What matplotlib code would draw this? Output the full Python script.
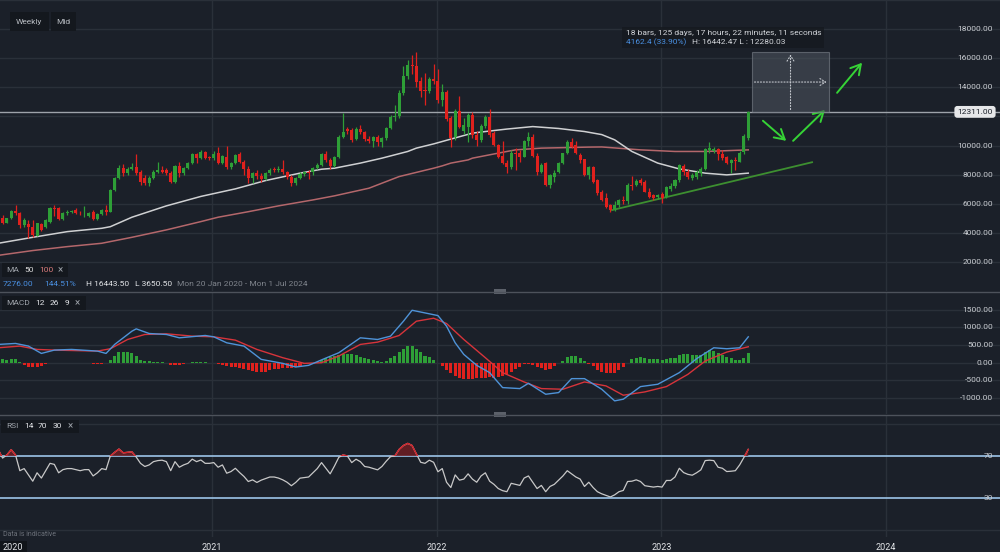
import numpy as np
import matplotlib
matplotlib.use('Agg')
import matplotlib.pyplot as plt
from matplotlib.patches import Rectangle
from matplotlib.transforms import blended_transform_factory

plt.rcParams['font.family'] = ['Roboto', 'DejaVu Sans']

# ---------------- data (weekly bars from Mon 20 Jan 2020) ----------------
start_date = np.datetime64('2020-01-20')

opens = [5100, 5000, 4700, 5000, 5500, 5380, 4540, 4600, 4420, 3800,
         4600, 4380, 4770, 5700, 5690, 4930, 5360, 5450, 5600, 5390,
         5330, 5160, 5450, 4950, 5270, 5570, 5460, 6950, 7770, 8440,
         8100, 8370, 8550, 8210, 7800, 7410, 7800, 8210, 8350, 8300,
         8140, 7500, 8600, 8100, 8440, 8780, 9420, 9130, 9580, 9220,
         9130, 9470, 8790, 9240, 8510, 8800, 9400, 8900, 8400, 7800,
         8100, 7870, 7690, 8100, 8350, 8300, 8400, 8200, 7860, 7420,
         7750, 8050, 8150, 8150, 8440, 8670, 9450, 9000, 8560, 9200,
         10600, 11130, 11080, 10450, 11130, 10900, 10450, 10320, 10550, 10270,
         10500, 11190, 11950, 12050, 13600, 14800, 15550, 15480, 14450, 13800,
         13780, 14560, 14400, 13140, 13700, 11880, 10600, 12340, 11030, 11300,
         12100, 10700, 10350, 11350, 11990, 10850, 10040, 9290, 8830, 8550,
         9500, 9470, 9240, 10300, 10600, 9300, 8210, 8785, 7290, 7820,
         8210, 8785, 9470, 10270, 10040, 9360, 9060, 7980, 8550, 7630,
         6830, 6380, 5920, 5620, 5900, 6260, 6200, 7290, 7290, 7630,
         7520, 6830, 6600, 6450, 6670, 6450, 7000, 7220, 7630, 8600,
         8210, 7750, 7820, 8100, 8370, 9700, 9650, 9750, 9400, 9200,
         8830, 9000, 8900, 9520, 10500]
highs = [5250, 5200, 5050, 5550, 5920, 5400, 5000, 4880, 4900, 4700,
         4700, 4950, 5750, 5940, 5750, 5450, 5600, 5600, 5720, 5500,
         5840, 5450, 5550, 5330, 5650, 5900, 7000, 7850, 8650, 8700,
         8500, 8800, 9420, 8300, 7950, 7900, 8300, 8850, 8600, 8450,
         8250, 8650, 8850, 8550, 8850, 9500, 9500, 9700, 9650, 9300,
         9600, 9930, 9350, 9975, 8900, 9450, 9550, 9000, 8600, 8200,
         8300, 8100, 8200, 8450, 8500, 8600, 9000, 8250, 7950, 7850,
         8150, 8250, 8300, 8550, 8800, 9500, 9600, 9150, 9250, 10700,
         12225, 11300, 11200, 11250, 11400, 11000, 10650, 10650, 10700, 10600,
         11300, 12100, 12750, 13800, 15430, 15850, 16240, 16443, 14700, 15000,
         14700, 15620, 15270, 14200, 13800, 12000, 12500, 13370, 11900, 12200,
         12300, 11000, 11500, 12100, 12520, 11000, 10100, 10300, 9000, 9700,
         9840, 9700, 10400, 10960, 10800, 9470, 8800, 8900, 8050, 8300,
         8900, 9500, 10400, 10500, 10300, 9500, 9100, 8600, 8600, 7700,
         6950, 6750, 6000, 6200, 6350, 6500, 7400, 7910, 7700, 7800,
         7600, 7100, 6700, 6700, 6800, 7200, 7400, 7700, 8700, 8700,
         8400, 8100, 8300, 8500, 9800, 10270, 9900, 9800, 9700, 9300,
         9100, 9240, 9600, 10800, 12350]
lows = [4900, 4600, 4650, 4950, 5230, 4300, 4400, 3650, 3700, 3750,
        4100, 4300, 4700, 5160, 4850, 4880, 5250, 5350, 5300, 5200,
        5100, 5100, 4900, 4880, 5200, 5250, 5400, 6850, 7700, 7900,
        8000, 8300, 8000, 7300, 7300, 7250, 7700, 8100, 8100, 7950,
        7450, 7450, 7850, 8000, 8400, 8700, 8780, 9050, 9050, 9000,
        9000, 8700, 8700, 8400, 8400, 8750, 8800, 7980, 7430, 7400,
        7700, 7500, 7600, 7950, 8200, 8150, 8050, 7700, 7250, 7300,
        7700, 7900, 7700, 8000, 8400, 8600, 8900, 8400, 8500, 9150,
        10500, 10800, 10250, 10400, 10800, 10300, 10200, 9930, 9950, 9900,
        10400, 11100, 11700, 11900, 13500, 14600, 14900, 14000, 13300, 12800,
        13600, 14200, 12900, 12700, 11700, 9930, 10400, 11200, 10800, 10270,
        10500, 10000, 10250, 11200, 10600, 9950, 9150, 8700, 8100, 8400,
        8330, 8900, 9200, 10000, 9200, 8000, 8100, 7200, 7100, 7500,
        8100, 8700, 9400, 9800, 9400, 8800, 7900, 7700, 7400, 6600,
        6200, 5700, 5457, 5470, 5750, 5950, 6000, 6950, 7200, 7300,
        6800, 6400, 6250, 6300, 6040, 6400, 6900, 7100, 7500, 8000,
        7700, 7600, 7700, 7900, 8300, 9500, 9500, 9000, 9000, 8750,
        8100, 8320, 8850, 9400, 10390]
closes = [5000, 4700, 5000, 5500, 5380, 4540, 4880, 4420, 3860, 4650,
          4200, 4880, 5700, 5620, 4930, 5340, 5450, 5500, 5390, 5330,
          5380, 5380, 4950, 5270, 5570, 5460, 6950, 7770, 8480, 8100,
          8370, 8550, 8100, 7520, 7410, 7800, 8210, 8300, 8210, 8100,
          7500, 8600, 8100, 8440, 8780, 9400, 9130, 9580, 9150, 9120,
          9420, 8790, 9290, 8500, 8830, 9350, 8900, 8400, 7800, 8100,
          7870, 7690, 8100, 8320, 8300, 8350, 8200, 7860, 7420, 7750,
          8050, 8150, 8100, 8440, 8670, 9450, 9010, 8560, 9200, 10600,
          10950, 11030, 10400, 11130, 10900, 10430, 10320, 10550, 10270, 10500,
          11190, 11950, 12050, 13600, 14800, 15550, 15430, 14330, 13760, 13750,
          14560, 14400, 13140, 13710, 11850, 10500, 12340, 11300, 11420, 12100,
          10700, 10350, 11350, 11990, 10730, 10040, 9240, 8790, 8550, 9500,
          9400, 9240, 10300, 10600, 9300, 8210, 8670, 7290, 7980, 8100,
          8830, 9470, 10270, 9930, 9470, 9010, 7980, 8550, 7470, 6720,
          6260, 5800, 5570, 5900, 6260, 6200, 7290, 7200, 7590, 7410,
          6830, 6490, 6380, 6600, 6380, 7130, 7220, 7630, 8670, 8210,
          7820, 7980, 8210, 8370, 9750, 9820, 9750, 9400, 9130, 8830,
          8970, 8950, 9470, 10620, 12311]

ma50_weeks = [0, 8, 16, 24, 26, 31, 39, 47, 55, 62, 70, 75, 78, 84, 89, 95, 97,
              101, 105, 110, 113, 118, 124, 130, 136, 140, 143, 147, 153, 158,
              164, 169, 174]
ma50_vals = [3280, 3690, 4080, 4310, 4420, 5070, 5850, 6500, 7020, 7590, 8100,
             8370, 8440, 8790, 9130, 9590, 9820, 10110, 10440, 10850, 10960,
             11130, 11300, 11170, 10960, 10750, 10390, 9590, 8790, 8390, 8100,
             7980, 8100]
ma100_weeks = [0, 8, 16, 24, 31, 39, 47, 51, 58, 65, 73, 78, 86, 93, 101, 103,
               105, 109, 110, 118, 120, 126, 137, 140, 149, 157, 164, 174]
ma100_vals = [2450, 2780, 3050, 3280, 3690, 4200, 4770, 5070, 5450, 5850, 6260,
              6540, 7065, 7865, 8440, 8600, 8790, 9010, 9130, 9590, 9700, 9820,
              9890, 9900, 9700, 9590, 9590, 9700]

macd_weeks = [0, 4, 7, 10, 13, 17, 23, 25, 27, 31, 32, 35, 39, 42, 48, 50, 53,
              57, 61, 66, 69, 72, 76, 79, 84, 88, 91, 94, 96, 99, 102, 104, 106,
              108, 111, 114, 117, 121, 123, 127, 130, 133, 136, 140, 143, 145,
              149, 153, 158, 162, 166, 169, 172, 174]
macd_vals = [516, 544, 469, 262, 356, 375, 328, 262, 516, 890, 956, 825, 797,
             703, 769, 731, 562, 469, 94, -19, -122, -75, 131, 281, 703, 656,
             750, 1172, 1481, 1406, 1331, 1031, 562, 234, -75, -281, -703, -731,
             -581, -891, -844, -450, -450, -750, -1078, -1031, -675, -609, -281,
             112, 422, 394, 422, 731]
signal_weeks = [0, 5, 9, 13, 23, 26, 30, 34, 39, 45, 50, 55, 60, 66, 71, 75, 79,
                84, 88, 93, 97, 101, 104, 108, 113, 117, 122, 126, 131, 136, 141,
                145, 150, 155, 160, 164, 169, 174]
signal_vals = [422, 469, 375, 356, 328, 394, 656, 797, 816, 750, 731, 637, 375,
               141, -19, 0, 188, 516, 581, 769, 1172, 1256, 1106, 656, 141, -281,
               -544, -731, -750, -544, -656, -919, -825, -675, -328, 47, 300, 450]
hist_vals = [100, 95, 90, 100, 95, 20,
             -60, -110, -120, -110, -80, -40,
             -10, -5, 5, 5, -10, -5, 0, -10, -10, -20,
             -40, -45, -30, -10,
             80, 200, 290, 310, 290, 260, 180, 80,
             50, 40, 30, 20, 10,
             -20, -60, -70, -70, -50, -20,
             15, 25, 20, 10, 0, -10,
             -40, -70, -100, -120, -130, -150, -180, -220, -245, -260, -265,
             -250, -220, -190, -170, -150, -140, -150, -120, -80, -50, -20,
             0, 30, 90, 140, 170, 200, 230, 250, 255, 240, 210, 170, 130, 100,
             70, 40, 20,
             50, 130, 200, 300, 400, 460, 470, 400, 300, 200, 150, 70,
             -20, -100, -200, -300, -380, -440, -470, -470, -460, -440, -420,
             -420, -410, -420, -400, -380, -330, -260, -180, -110, -40,
             -30, -60, -120, -150, -200, -180, -100,
             -20, 60, 150, 190, 180, 120, 50,
             -30, -100, -200, -260, -290, -300, -280, -200, -120, -20,
             100, 140, 150, 130, 110, 100, 100, 90, 110, 130, 140, 210, 250,
             240, 230, 230, 220, 300, 350, 330, 280, 220, 170, 120, 90, 90, 120,
             270]
rsi_vals = [76, 68, 71, 76, 71, 56, 58, 52, 46, 54,
            49, 56, 63, 62, 54, 57, 58, 58, 57, 56,
            57, 57, 51, 54, 58, 57, 70, 73.5, 76.6, 73,
            73.5, 74, 69, 63, 60, 61.5, 64.6, 65.6, 66, 64.6,
            56, 64.6, 59.3, 61.5, 63, 67, 64.6, 66.2, 63, 63,
            63.7, 59.3, 61.5, 53.6, 55.2, 58.3, 54.2, 50.5, 45.7, 47.3,
            44.8, 47, 48.5, 50, 50, 49, 47.3, 45, 41.7, 44.8,
            48.9, 49.5, 50, 54, 58, 63.7, 58.3, 53, 60.5, 68.7,
            71, 70, 63.7, 66.9, 64.6, 60, 59.3, 58, 56.8, 60,
            65, 69.4, 70, 76.3, 80, 82, 80, 72, 64, 63,
            66, 64, 55, 58, 45, 40, 52, 47, 48, 53,
            48, 45, 51, 54, 46, 43, 39, 37, 36, 44,
            43, 42, 49, 51, 45, 39, 42, 36, 41, 43,
            47, 51, 56, 53, 50, 48, 41, 45, 40, 36,
            34, 32.5, 31, 33, 36, 37.2, 45.7, 46, 47.3, 45.7,
            41.7, 41, 40.4, 41, 40.4, 46.7, 46.7, 50, 58.3, 54.2,
            52.5, 51.7, 54, 56.8, 65.6, 66, 65.6, 59.3, 58.3, 55.2,
            55.5, 56, 61.5, 68.7, 76.3]

year_labels = ['2020', '2021', '2022', '2023', '2024']
price_ticks = [2000, 4000, 6000, 8000, 10000, 14000, 16000, 18000]
macd_ticks = [-1000, -500, 0, 500, 1000, 1500]
rsi_levels = [30, 70]
last_price = 12311.0

measure_bars = 18
measure_high = 16442.47
measure_low = 12280.03
trend_weeks = [142.4, 188.8]
trend_vals = [5560, 8850]
# hand drawn arrows: (week, price) start -> end
arrows = [((177.4, 11700), (182.8, 10320)),
          ((184.4, 10320), (191.8, 12450)),
          ((194.6, 13620), (200.4, 15690))]

# ---------------- style ----------------
BG = '#1b2029'
GRID = '#2a3039'
TXT = '#c9ccd1'
GREEN = '#2e9f37'
RED = '#e0211d'
W, H = 1000, 552
XLIM = (0.4, 232.4)


def weeks_of(date_str):
    days = (np.datetime64(date_str) - start_date).astype('timedelta64[D]').astype(float)
    return days / 7.0


year_weeks = [weeks_of(y + '-01-01') for y in year_labels]

fig = plt.figure(figsize=(10, 5.52), dpi=100, facecolor=BG)


def box(top, bottom):
    return [0, 1 - bottom / H, 1, (bottom - top) / H]


def setup(ax, ylim, hgrid):
    ax.set_facecolor(BG)
    ax.set_xlim(*XLIM)
    ax.set_ylim(*ylim)
    for s in ax.spines.values():
        s.set_visible(False)
    ax.set_xticks([])
    ax.set_yticks([])
    for v in hgrid:
        ax.axhline(v, color=GRID, lw=1, zorder=0)
    for w in year_weeks[1:]:
        ax.axvline(w, color=GRID, lw=1, zorder=0)


ax_p = fig.add_axes(box(0, 291))
ax_m = fig.add_axes(box(292, 414))
ax_r = fig.add_axes(box(415, 537))
setup(ax_p, (0, 20000), range(2000, 20001, 2000))
setup(ax_m, (-1449, 1997), macd_ticks)
setup(ax_r, (-7.1, 109), [0, 100])

# ---------------- price panel ----------------
x = np.arange(len(closes))
o = np.array(opens, float)
c = np.array(closes, float)
up = c >= o
cols = np.where(up, GREEN, RED)
ax_p.vlines(x, lows, highs, colors=cols, lw=0.9, zorder=3)
ax_p.bar(x, np.maximum(np.abs(c - o), 60), bottom=np.minimum(o, c), width=0.7,
         color=cols, linewidth=0, zorder=4)

ax_p.plot(ma100_weeks, ma100_vals, color='#b4676b', lw=1.1, zorder=2)
ax_p.plot(ma50_weeks, ma50_vals, color='#cfd0d2', lw=1.1, zorder=2)
ax_p.plot(trend_weeks, trend_vals, color='#3d8f30', lw=1.3, zorder=2)

ax_p.axhline(last_price, color='#9ea3aa', lw=1, zorder=1)

# measurement box
left = len(closes) - 0.2
ax_p.add_patch(Rectangle((left, measure_low), measure_bars, measure_high - measure_low,
                         facecolor='#4b525c', alpha=0.6, edgecolor='#7d838c', lw=0.8, zorder=5))
mid_x = left + measure_bars / 2
mid_y = (measure_high + measure_low) / 2
ax_p.annotate('', xy=(mid_x, measure_high), xytext=(mid_x, measure_low),
              arrowprops=dict(arrowstyle='->,head_length=0.4,head_width=0.25',
                              color='#c3c7cd', lw=0.8, linestyle=':'), zorder=6)
ax_p.annotate('', xy=(left + measure_bars, mid_y), xytext=(left, mid_y),
              arrowprops=dict(arrowstyle='->,head_length=0.4,head_width=0.25',
                              color='#c3c7cd', lw=0.8, linestyle=':'), zorder=6)

for start, end in arrows:
    ax_p.annotate('', xy=end, xytext=start,
                  arrowprops=dict(arrowstyle='->,head_length=0.7,head_width=0.4',
                                  color='#36d336', lw=1.4, shrinkA=0, shrinkB=0))

# y labels
tp = blended_transform_factory(ax_p.transAxes, ax_p.transData)
for v in price_ticks:
    ax_p.text(0.993, v, f'{v:.2f}', transform=tp, ha='right', va='center',
              fontsize=6, color=TXT)
ax_p.text(0.975, last_price, f'{last_price:.2f}', transform=tp, ha='center', va='center',
          fontsize=6, color='#1b2029',
          bbox=dict(boxstyle='round,pad=0.35', fc='#e6e7e9', ec='none'), zorder=7)

# ---------------- MACD panel ----------------
hv = np.array(hist_vals, float)
ax_m.bar(x, hv, width=0.7, color=np.where(hv >= 0, GREEN, RED), linewidth=0, zorder=2)
ax_m.plot(signal_weeks, signal_vals, color='#d7343b', lw=1.0, zorder=3)
ax_m.plot(macd_weeks, macd_vals, color='#4f93d8', lw=1.0, zorder=4)
tm = blended_transform_factory(ax_m.transAxes, ax_m.transData)
for v in macd_ticks:
    ax_m.text(0.993, v, f'{v:.2f}', transform=tm, ha='right', va='center',
              fontsize=6, color=TXT)

# ---------------- RSI panel ----------------
rv = np.array(rsi_vals, float)
for lv in rsi_levels:
    ax_r.axhline(lv, color='#9cc4e8', lw=1.2, zorder=1)
ax_r.fill_between(x, rv, 70, where=rv > 70, interpolate=True, color='#6e1d22',
                  alpha=0.85, lw=0, zorder=2)
ax_r.plot(x, rv, color='#c8c8c8', lw=0.9, zorder=3)
red_line, = ax_r.plot(x, rv, color='#d21f26', lw=1.0, zorder=4)
red_line.set_clip_path(Rectangle((XLIM[0], 70), 300, 60, transform=ax_r.transData))
tr = blended_transform_factory(ax_r.transAxes, ax_r.transData)
for lv in rsi_levels:
    ax_r.text(0.993, lv, str(lv), transform=tr, ha='right', va='center',
              fontsize=6, color=TXT)

# ---------------- separators ----------------
for yy in (291.5, 414.5):
    fig.add_artist(plt.Line2D([0, 1], [1 - yy / H] * 2, color='#4d525b', lw=1))
    fig.add_artist(Rectangle((494 / W, 1 - (yy + 2.5) / H), 12 / W, 5 / H,
                             transform=fig.transFigure, fc='#5c616a', ec='none'))


def ftext(px, py, s, **kw):
    kw.setdefault('fontsize', 6)
    kw.setdefault('color', TXT)
    fig.text(px / W, 1 - py / H, s, va='center', ha='left', **kw)


def fbox(x0, y0, x1, y1, fc='#14181e', alpha=1.0):
    fig.add_artist(Rectangle((x0 / W, 1 - y1 / H), (x1 - x0) / W, (y1 - y0) / H,
                             transform=fig.transFigure, fc=fc, ec='none', alpha=alpha))


# top left buttons
fbox(10, 12, 49, 31)
fbox(51, 12, 76, 31)
ftext(16, 22, 'Weekly', color='#b8bcc2')
ftext(56, 22, 'Mid', color='#b8bcc2')

# measurement info
fbox(622, 27, 824, 48, fc='#161a20', alpha=0.85)
ftext(626, 33, '18 bars, 125 days, 17 hours, 22 minutes, 11 seconds', color='#d2d5da')
ftext(626, 42.5, '4162.4 (33.90%)', color='#4a90e2')
ftext(692, 42.5, 'H: 16442.47 L : 12280.03', color='#d2d5da')

# MA legend
fbox(2, 263, 68, 277)
ftext(6, 270, 'MA', color='#9ea3aa')
ftext(24, 270, '50', color='#d9d9d9')
ftext(39, 270, '100', color='#d77a7a')
ftext(58, 270, '\u00d7', color='#9ea3aa', fontsize=7)
ftext(3, 284.5, '7276.00', color='#4a90e2')
ftext(44, 284.5, '144.51%', color='#4a90e2')
ftext(86, 284.5, 'H 16443.50', color='#e4e6e9')
ftext(135, 284.5, 'L 3650.50', color='#e4e6e9')
ftext(177, 284.5, 'Mon 20 Jan 2020 - Mon 1 Jul 2024', color='#80858d')

# MACD legend
fbox(2, 296, 86, 310)
ftext(6, 303, 'MACD', color='#9ea3aa')
ftext(35, 303, '12', color='#e4e6e9')
ftext(50, 303, '26', color='#e4e6e9')
ftext(65, 303, '9', color='#e4e6e9')
ftext(75, 303, '\u00d7', color='#9ea3aa', fontsize=7)

# RSI legend
fbox(1, 420, 79, 433)
ftext(6, 426.5, 'RSI', color='#9ea3aa')
ftext(24, 426.5, '14', color='#e4e6e9')
ftext(38, 426.5, '70', color='#e4e6e9')
ftext(53, 426.5, '30', color='#e4e6e9')
ftext(68, 426.5, '\u00d7', color='#9ea3aa', fontsize=7)

ftext(3, 535, 'Data is indicative', color='#6c717a', fontsize=5)

# x axis labels
fbox(0, 541, 27, 552, fc='#11151a')
ftext(3, 547, year_labels[0], color='#e4e6e9', fontsize=6.5)
tx = blended_transform_factory(ax_r.transData, fig.transFigure)
for lab, w in zip(year_labels[1:], year_weeks[1:]):
    fig.text(w, 1 - 547 / H, lab, transform=tx, ha='center', va='center',
             fontsize=6.5, color='#e4e6e9')

fig.savefig('out.png', dpi=100, facecolor=BG)
